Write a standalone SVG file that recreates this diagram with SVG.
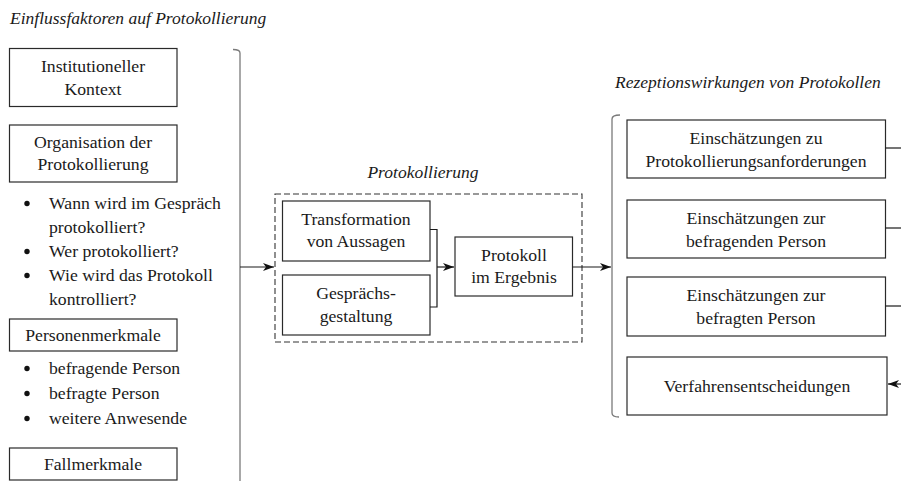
<svg xmlns="http://www.w3.org/2000/svg" width="901" height="481" viewBox="0 0 901 481" font-family="'Liberation Serif', Tinos, 'Times New Roman', 'DejaVu Serif', serif">
<style>
text{font-family:"Liberation Serif",Tinos,"Times New Roman","DejaVu Serif",serif;font-size:17.7px;fill:#1a1a1a}
.t{text-anchor:middle}
.it{font-style:italic;font-size:17.5px}
.box{fill:#fff;stroke:#2a2a2a;stroke-width:1.2}
.br{fill:none;stroke:#7a7a7a;stroke-width:1.3}
.ln{fill:none;stroke:#1a1a1a;stroke-width:1.2}
.dash{fill:none;stroke:#333;stroke-width:1.1;stroke-dasharray:6 3}
.dot{fill:#111}
</style>
<defs>
<marker id="ah" markerWidth="12" markerHeight="10" refX="11" refY="5" orient="auto" markerUnits="userSpaceOnUse">
<path d="M0,1 L11,5 L0,9 L3,5 Z" fill="#111"/>
</marker>
</defs>
<rect width="901" height="481" fill="#fff"/>

<text class="it" x="10" y="24">Einflussfaktoren auf Protokollierung</text>
<text class="it t" x="423" y="178">Protokollierung</text>
<text class="it" x="615" y="88">Rezeptionswirkungen von Protokollen</text>

<g id="institutioneller-kontext">
<rect class="box" x="9.5" y="48.5" width="167.5" height="58"/>
<text class="t" x="93" y="72">Institutioneller</text>
<text class="t" x="93" y="95">Kontext</text>
</g>
<g id="organisation">
<rect class="box" x="9.5" y="125" width="167.5" height="57"/>
<text class="t" x="93" y="147.5">Organisation der</text>
<text class="t" x="93" y="170">Protokollierung</text>
<circle class="dot" cx="27" cy="203.5" r="2.7"/>
<text x="49" y="209">Wann wird im Gespräch</text>
<text x="49" y="233">protokolliert?</text>
<circle class="dot" cx="27" cy="251.5" r="2.7"/>
<text x="49" y="257">Wer protokolliert?</text>
<circle class="dot" cx="27" cy="275.5" r="2.7"/>
<text x="49" y="281">Wie wird das Protokoll</text>
<text x="49" y="305">kontrolliert?</text>
</g>
<g id="personenmerkmale">
<rect class="box" x="9.5" y="319" width="167.5" height="32"/>
<text class="t" x="93" y="341">Personenmerkmale</text>
<circle class="dot" cx="27" cy="368.5" r="2.7"/>
<text x="49" y="374">befragende Person</text>
<circle class="dot" cx="27" cy="393.5" r="2.7"/>
<text x="49" y="399">befragte Person</text>
<circle class="dot" cx="27" cy="418.5" r="2.7"/>
<text x="49" y="424">weitere Anwesende</text>
</g>
<g id="fallmerkmale">
<rect class="box" x="9.5" y="448" width="167.5" height="32"/>
<text class="t" x="93" y="470">Fallmerkmale</text>
</g>

<g id="protokollierung">
<rect class="dash" x="275" y="194" width="307" height="148"/>
</g>
<g id="transformation">
<rect class="box" x="282.5" y="201" width="147.5" height="60"/>
<text class="t" x="356" y="224.5">Transformation</text>
<text class="t" x="356" y="247">von Aussagen</text>
</g>
<g id="gespraechsgestaltung">
<rect class="box" x="282.5" y="275" width="147.5" height="60"/>
<text class="t" x="356" y="299">Gesprächs-</text>
<text class="t" x="356" y="322">gestaltung</text>
</g>
<g id="protokoll-ergebnis">
<rect class="box" x="455" y="237" width="117.5" height="59"/>
<text class="t" x="514" y="261">Protokoll</text>
<text class="t" x="514" y="283">im Ergebnis</text>
</g>

<g id="einschaetzungen-anforderungen">
<rect class="box" x="627" y="120" width="258.5" height="58"/>
<text class="t" x="756" y="143.5">Einschätzungen zu</text>
<text class="t" x="756" y="166.5">Protokollierungsanforderungen</text>
</g>
<g id="einschaetzungen-befragende">
<rect class="box" x="627" y="200" width="258.5" height="58"/>
<text class="t" x="756" y="223.5">Einschätzungen zur</text>
<text class="t" x="756" y="246.5">befragenden Person</text>
</g>
<g id="einschaetzungen-befragte">
<rect class="box" x="627" y="277" width="258.5" height="59"/>
<text class="t" x="756" y="301">Einschätzungen zur</text>
<text class="t" x="756" y="324">befragten Person</text>
</g>
<g id="verfahrensentscheidungen">
<rect class="box" x="627" y="357" width="260" height="58"/>
<text class="t" x="757" y="392">Verfahrensentscheidungen</text>
</g>

<g id="connectors">
<path class="br" d="M233,49.5 Q240,49.5 240,53 L240,481"/>
<path class="br" d="M620,115 Q612,115 612,119 L612,413 Q612,417 619,417"/>
<path class="ln" d="M240,267 L274,267" marker-end="url(#ah)"/>
<path class="ln" d="M430,229.5 L437,229.5 L437,307 L430,307"/>
<path class="ln" d="M437,267 L454,267" marker-end="url(#ah)"/>
<path class="ln" d="M572.5,267 L611,267" marker-end="url(#ah)"/>
<path class="ln" d="M885.5,148 L901,148"/>
<path class="ln" d="M885.5,228 L901,228"/>
<path class="ln" d="M885.5,306 L901,306"/>
<path class="ln" d="M901,384 L888,384" marker-end="url(#ah)"/>
</g>
</svg>
